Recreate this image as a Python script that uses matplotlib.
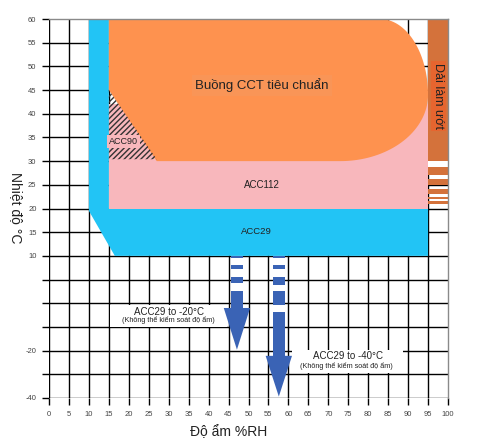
import numpy as np
import matplotlib.pyplot as plt
from matplotlib.patches import Polygon, Rectangle

plt.rcParams['font.family'] = ['Liberation Sans', 'DejaVu Sans']

# axis ticks (y is a stretched scale: below 10 only -20 and -40 are labelled)
x_ticks = list(range(0, 101, 5))
y_ticks = [60, 55, 50, 45, 40, 35, 30, 25, 20, 15, 10, 5, 0, -5, -10, -15, -20]
y_tick_labels = ['60', '55', '50', '45', '40', '35', '30', '25', '20', '15', '10',
                 '', '', '', '-20', '', '-40']

# ACC29 zone (blue)
acc29_x = [10, 15, 15, 95, 95, 16.5, 10]
acc29_y = [60, 60, 20, 20, 10, 10, 19.5]

# ACC112 zone (pink)
acc112_x = [15, 95]
acc112_y = [20, 42]

# standard CCT chamber (orange): corners of the rounded shape
cct_left, cct_top = 15, 60
cct_top_right_x, cct_right, cct_mid_y = 83, 95, 44
cct_bottom_x, cct_bottom = 73, 30
cct_bottom_left_x, cct_left_y = 27, 45

# ACC90 hatched triangle
acc90_x = [15, 27, 15]
acc90_y = [45, 30.4, 30.4]

# wetting band
band_x = [95, 100]
band_solid = [30, 60]
band_stripes = [(27.1, 28.8), (24.9, 26.2), (23.0, 24.1), (21.9, 22.5), (21.0, 21.5)]

# cooling arrows: x position, dashed shaft pieces, head start, tip
arrow_x = [47.1, 57.6]
arrow_pieces = [
    [(10, 9.5), (8.1, 7.2), (5.6, 4.2), (2.5, -1.0)],
    [(10, 9.5), (8.1, 7.2), (5.6, 3.9), (2.5, -0.3), (-1.75, -11.1)],
]
arrow_head = [-1.0, -11.1]
arrow_tip = [-9.8, -19.7]

BLUE = '#22C4F5'
PINK = '#F8B7BC'
ORANGE = '#FE924F'
BAND = '#D4723B'
ARROW = '#3A63B5'

fig = plt.figure(figsize=(4.8, 4.47), dpi=100)
ax = fig.add_axes([49 / 480, 1 - 398 / 447, 399 / 480, 379 / 447])
ax.set_xlim(0, 100)
ax.set_ylim(-20, 60)

# grid
for xv in x_ticks[:-1]:
    ax.axvline(xv, color='black', lw=1.0, zorder=0.5)
for yv in y_ticks[1:]:
    ax.axhline(yv, color='black', lw=1.0, zorder=0.5)

for s in ['left', 'bottom']:
    ax.spines[s].set_visible(False)
for s in ['top', 'right']:
    ax.spines[s].set_color('#8a8a8a')
    ax.spines[s].set_linewidth(1.0)

ax.set_xticks(x_ticks)
ax.set_xticklabels([str(v) for v in x_ticks])
ax.set_yticks(y_ticks)
ax.set_yticklabels(y_tick_labels)
ax.tick_params(axis='both', length=5, width=1.0, color='black', labelsize=5.5,
               labelcolor='#444444', pad=4)

# zones
ax.add_patch(Polygon(list(zip(acc29_x, acc29_y)), closed=True, fc=BLUE, ec='none', zorder=1))
ax.add_patch(Rectangle((acc112_x[0], acc112_y[0]), acc112_x[1] - acc112_x[0],
                       acc112_y[1] - acc112_y[0], fc=PINK, ec='none', zorder=1))

t1 = np.linspace(np.pi / 2, 0, 40)
rx1, ry1 = cct_right - cct_top_right_x, cct_top - cct_mid_y
arc1 = np.column_stack([cct_top_right_x + rx1 * np.cos(t1), cct_mid_y + ry1 * np.sin(t1)])
t2 = np.linspace(0, -np.pi / 2, 40)
rx2, ry2 = cct_right - cct_bottom_x, cct_mid_y - cct_bottom
arc2 = np.column_stack([cct_bottom_x + rx2 * np.cos(t2), cct_mid_y + ry2 * np.sin(t2)])
cct = np.vstack([[[cct_left, cct_top]], arc1, arc2,
                 [[cct_bottom_left_x, cct_bottom], [cct_left, cct_left_y]]])
ax.add_patch(Polygon(cct, closed=True, fc=ORANGE, ec='none', zorder=2))

plt.rcParams['hatch.linewidth'] = 1.0
ax.add_patch(Polygon(list(zip(acc90_x, acc90_y)), closed=True, fc='none', ec='#333333',
                     lw=0, hatch='//////', zorder=2))

# wetting band
ax.add_patch(Rectangle((band_x[0], band_solid[0]), band_x[1] - band_x[0],
                       band_solid[1] - band_solid[0], fc=BAND, ec='none', zorder=2))
for lo, hi in band_stripes:
    ax.add_patch(Rectangle((band_x[0], lo), band_x[1] - band_x[0], hi - lo,
                           fc=BAND, ec='none', zorder=2))
ax.add_patch(Rectangle((band_x[0], band_solid[0] - 1.4), band_x[1] - band_x[0], 1.4,
                       fc='white', ec='none', zorder=1.5))
ax.text(97.6, 43.8, 'Dải làm ướt', rotation=270, ha='center', va='center', fontsize=9,
        color='#222222', zorder=3,
        bbox=dict(boxstyle='square,pad=0.15', fc='#E6652F', ec='none'))

# arrows
half_w, head_w = 1.5, 3.3
for xc, pieces, h0, tip in zip(arrow_x, arrow_pieces, arrow_head, arrow_tip):
    for top, bot in pieces:
        ax.add_patch(Rectangle((xc - half_w, bot), 2 * half_w, top - bot,
                               fc=ARROW, ec='none', zorder=3))
    ax.add_patch(Polygon([(xc - head_w, h0), (xc + head_w, h0), (xc, tip)],
                         closed=True, fc=ARROW, ec='none', zorder=3))

# labels
ax.text(53.4, 46, 'Buồng CCT tiêu chuẩn', ha='center', va='center', fontsize=9.5,
        color='#222222', zorder=4,
        bbox=dict(boxstyle='square,pad=0.25', fc='#F99557', ec='none'))
ax.text(18.7, 34.2, 'ACC90', ha='center', va='center', fontsize=6.5, color='#222222',
        zorder=4, bbox=dict(boxstyle='square,pad=0.2', fc=PINK, ec='none'))
ax.text(53.4, 25, 'ACC112', ha='center', va='center', fontsize=7, color='#222222', zorder=4)
ax.text(52, 15.1, 'ACC29', ha='center', va='center', fontsize=6.8, color='#222222', zorder=4)

ax.add_patch(Rectangle((15.2, -5.0), 29.4, 4.7, fc='white', ec='none', zorder=2.5))
ax.text(30, -1.75, 'ACC29 to -20°C', ha='center', va='center', fontsize=7, color='#222222', zorder=4)
ax.text(30, -3.65, '(Không thể kiểm soát độ ẩm)', ha='center', va='center', fontsize=5.2,
        color='#222222', zorder=4)

ax.add_patch(Rectangle((61, -14.7), 27.7, 4.9, fc='white', ec='none', zorder=2.5))
ax.text(75, -11.1, 'ACC29 to -40°C', ha='center', va='center', fontsize=7, color='#222222', zorder=4)
ax.text(74.6, -13.35, '(Không thể kiểm soát độ ẩm)', ha='center', va='center', fontsize=5.2,
        color='#222222', zorder=2.6)

fig.text(229 / 480, 1 - 432 / 447, 'Độ ẩm %RH', ha='center', va='center', fontsize=10,
         color='#222222')
fig.text(16 / 480, 1 - 208 / 447, 'Nhiệt độ °C', ha='center', va='center', fontsize=10,
         color='#222222', rotation=270)

fig.savefig('out.png', dpi=100)
